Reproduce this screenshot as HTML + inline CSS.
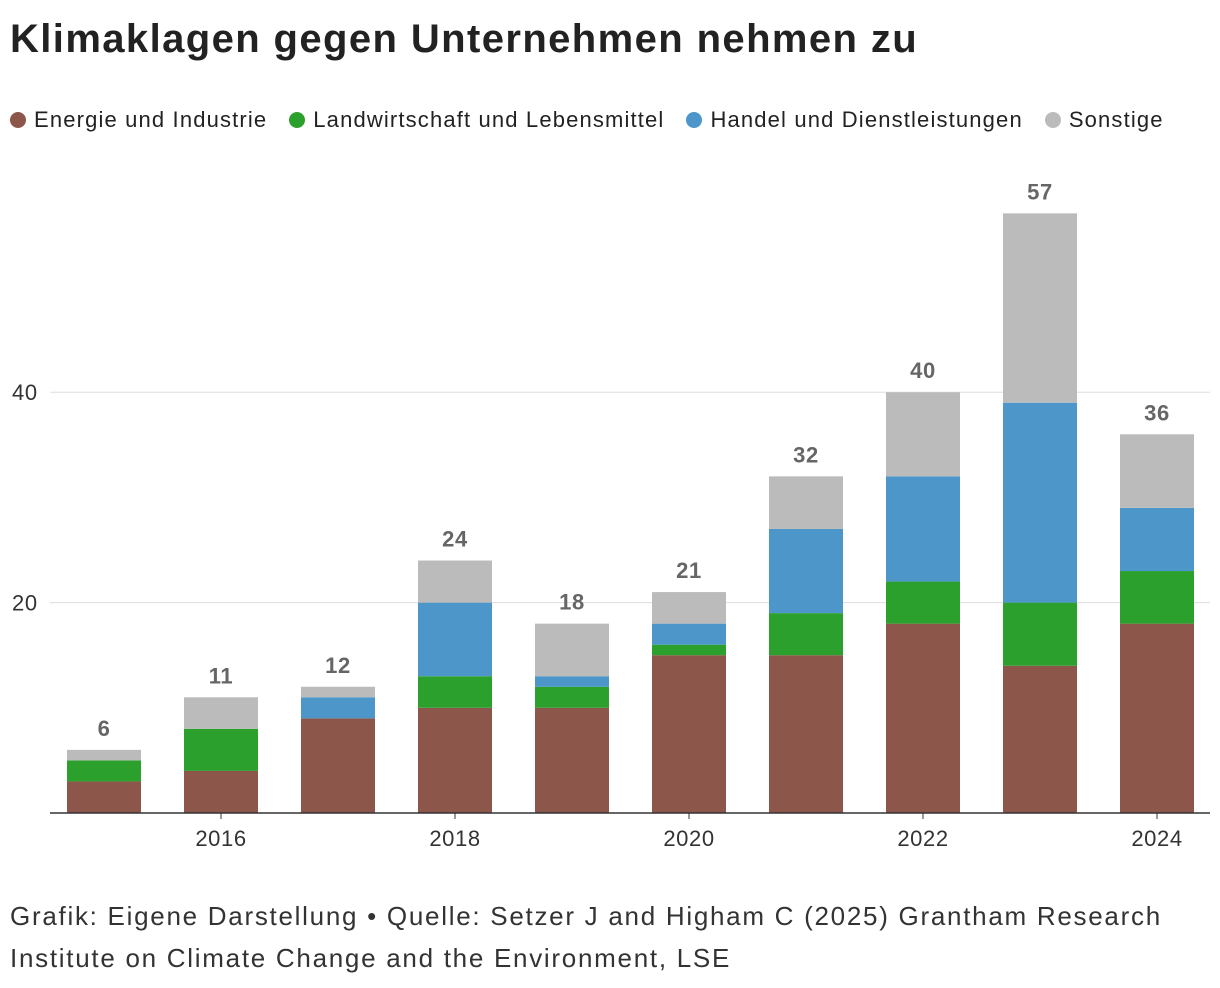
<!DOCTYPE html>
<html><head><meta charset="utf-8">
<style>
body{margin:0;background:#fff;width:1220px;height:988px;overflow:hidden;font-family:"Liberation Sans",sans-serif;color:#222}
#title{position:absolute;left:10px;top:17px;font-size:40px;font-weight:bold;margin:0;letter-spacing:1.4px}
#legend{position:absolute;left:10px;top:107px;font-size:22px;display:flex;gap:22px;letter-spacing:1.15px}
.li{display:flex;align-items:center;gap:8px}
.dot{width:16px;height:16px;border-radius:50%;display:inline-block}
#footer{position:absolute;left:10px;top:895px;font-size:26px;line-height:42px;color:#333;letter-spacing:1.72px}
svg{position:absolute;left:0;top:0;letter-spacing:0.6px}
</style></head><body>
<h1 id="title">Klimaklagen gegen Unternehmen nehmen zu</h1>
<div id="legend">
<span class="li"><span class="dot" style="background:#8c564b"></span>Energie und Industrie</span>
<span class="li"><span class="dot" style="background:#2ca02c"></span>Landwirtschaft und Lebensmittel</span>
<span class="li"><span class="dot" style="background:#4c96c9"></span>Handel und Dienstleistungen</span>
<span class="li"><span class="dot" style="background:#bbbbbb"></span>Sonstige</span>
</div>
<svg id="chart" width="1220" height="988"></svg>
<div id="footer">Grafik: Eigene Darstellung • Quelle: Setzer J and Higham C (2025) Grantham Research<br>Institute on Climate Change and the Environment, LSE</div>
<script>
const years=[2015,2016,2017,2018,2019,2020,2021,2022,2023,2024];
const energie=[3,4,9,10,10,15,15,18,14,18];
const landwirtschaft=[2,4,0,3,2,1,4,4,6,5];
const handel=[0,0,2,7,1,2,8,10,19,6];
const sonstige=[1,3,1,4,5,3,5,8,18,7];
const yTicks=[20,40];
const xTickYears=[2016,2018,2020,2022,2024];
const series=[[energie,'#8c564b','energie'],[landwirtschaft,'#2ca02c','landwirtschaft'],[handel,'#4c96c9','handel'],[sonstige,'#bbbbbb','sonstige']];
const svg=document.getElementById('chart');const NS='http://www.w3.org/2000/svg';
const y0=813,pxPer=10.52,left=50,right=1210,x0=104,step=117,bw=74;
const y=v=>y0-v*pxPer;
const x=yr=>x0+(yr-years[0])*step;
function mk(t,a){const e=document.createElementNS(NS,t);for(const k in a)e.setAttribute(k,a[k]);svg.appendChild(e);return e;}
yTicks.forEach(t=>{
 const g=mk('line',{x1:left,x2:right,y1:y(t),y2:y(t),stroke:'#ddd','stroke-width':1});
 
 
 const l=mk('text',{x:12,y:y(t)+8,'font-size':22,fill:'#333'});l.textContent=t;
 
 
});
years.forEach((yr,i)=>{
 let acc=0;
 series.forEach(([arr,col,nm])=>{
  const v=arr[i];if(v<=0)return;
  const r=mk('rect',{x:x(yr)-bw/2,y:y(acc+v),width:bw,height:v*pxPer,fill:col});
  
  
  acc+=v;
 });
 const t=mk('text',{x:x(yr),y:y(acc)-14,'font-size':22,'font-weight':'bold',fill:'#666','text-anchor':'middle'});t.textContent=acc;
 
 
});
const ax=mk('line',{x1:left,x2:right,y1:y0,y2:y0,stroke:'#333','stroke-width':1.5});


xTickYears.forEach(yr=>{
 const tk=mk('line',{x1:x(yr),x2:x(yr),y1:y0,y2:y0+6,stroke:'#333'});
 
 
 const l=mk('text',{x:x(yr),y:846,'font-size':22,fill:'#333','text-anchor':'middle'});l.textContent=yr;
 
 
});
</script>
</body></html>
